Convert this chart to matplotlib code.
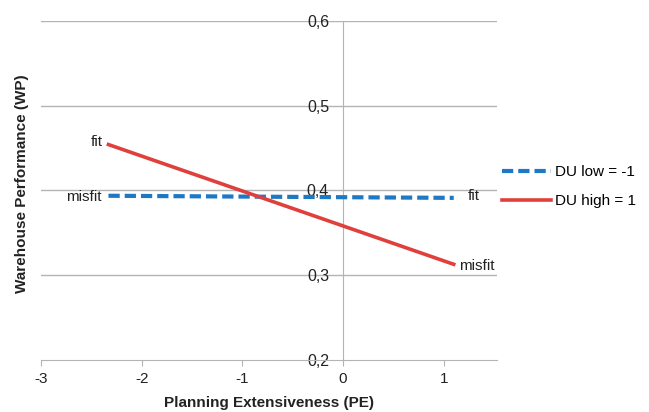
import matplotlib
matplotlib.use("Agg")
import matplotlib.pyplot as plt
from matplotlib.ticker import FuncFormatter

plt.rcParams["font.family"] = ["Liberation Sans", "DejaVu Sans"]
plt.rcParams["axes.unicode_minus"] = False

# simple slopes, PE at -SD and +SD
pe = [-2.33, 1.10]
wp_low = [0.3935, 0.391]   # DU low = -1
wp_high = [0.454, 0.3125]  # DU high = 1

x_ticks = [-3, -2, -1, 0, 1]
y_ticks = [0.2, 0.3, 0.4, 0.5, 0.6]

BLUE = "#1f78c4"
RED = "#e0403c"
GRID = "#b4b4b4"
TXT = "#222222"

fig = plt.figure(figsize=(6.49, 4.12), dpi=100)
ax = fig.add_axes([0.0632, 0.1274, 0.7026, 0.8216])

ax.set_xlim(-3, 1.53)
ax.set_ylim(0.2, 0.6)

for y in y_ticks[1:]:
    ax.axhline(y, color=GRID, linewidth=1, zorder=1)

ax.plot(pe, wp_low, color=BLUE, linewidth=3, linestyle=(0, (2.7, 1.2)),
        label="DU low = -1", zorder=3)
ax.plot(pe, wp_high, color=RED, linewidth=2.6, label="DU high = 1", zorder=3)

# y axis sits at PE = 0
for s in ["top", "right"]:
    ax.spines[s].set_visible(False)
ax.spines["left"].set_position(("data", 0))
ax.spines["left"].set_color(GRID)
ax.spines["bottom"].set_color(GRID)

ax.set_xticks(x_ticks)
ax.set_yticks(y_ticks)
ax.yaxis.set_major_formatter(FuncFormatter(lambda v, p: f"{v:.1f}".replace(".", ",")))
ax.tick_params(axis="y", length=0, pad=10, labelsize=11.5, labelcolor=TXT)
ax.tick_params(axis="x", length=4, color=GRID, pad=5, labelsize=11, labelcolor=TXT)

ax.set_xlabel("Planning Extensiveness (PE)", fontsize=11, fontweight="bold",
              color=TXT, labelpad=7)
ax.set_ylabel("Warehouse Performance (WP)", fontsize=11, fontweight="bold",
              color=TXT)
ax.yaxis.set_label_coords(-0.026, 0.518)

# end-point labels
ax.annotate("fit", (pe[0], wp_high[0]), xytext=(-4, 2), textcoords="offset points",
            ha="right", va="center", fontsize=11, color=TXT)
ax.annotate("misfit", (pe[0], wp_low[0]), xytext=(-5, -1), textcoords="offset points",
            ha="right", va="center", fontsize=11, color=TXT)
ax.annotate("fit", (pe[1], wp_low[1]), xytext=(10, 1), textcoords="offset points",
            ha="left", va="center", fontsize=11, color=TXT)
ax.annotate("misfit", (pe[1], wp_high[1]), xytext=(4, -1), textcoords="offset points",
            ha="left", va="center", fontsize=11, color=TXT)

ax.legend(loc="center left", bbox_to_anchor=(1.012, 0.511), frameon=False,
          fontsize=11, handlelength=3.2, handletextpad=0.25, labelspacing=1.0,
          borderaxespad=0, borderpad=0)

fig.savefig("out.png", dpi=100)
